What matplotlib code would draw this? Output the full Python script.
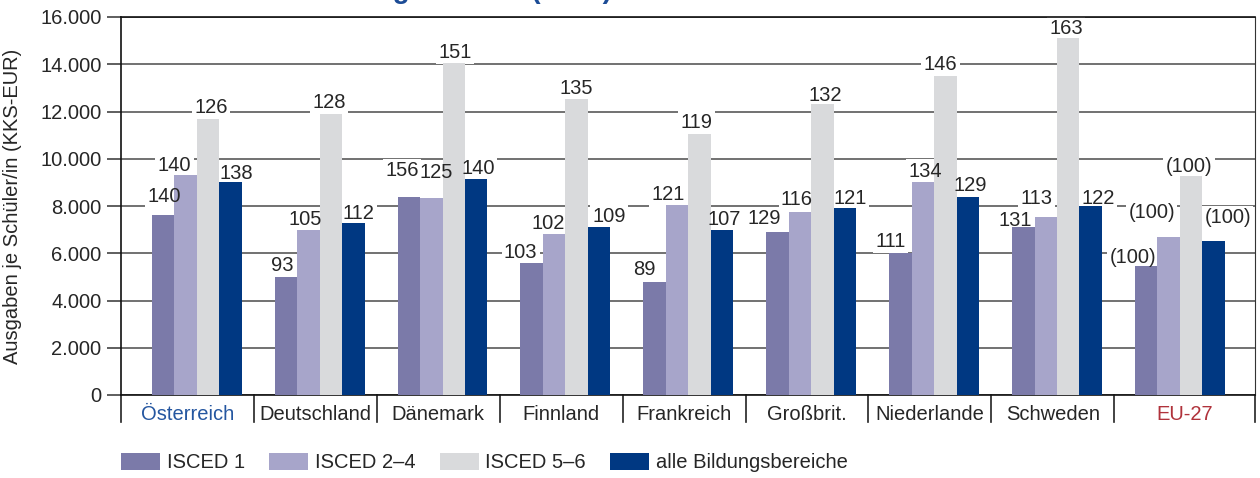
import matplotlib
matplotlib.use("Agg")
import matplotlib.pyplot as plt
from matplotlib.patches import Patch
from matplotlib.ticker import FuncFormatter, MultipleLocator
import matplotlib.transforms as mtransforms

plt.rcParams['font.family'] = ['Liberation Sans', 'DejaVu Sans']

countries = ["Österreich", "Deutschland", "Dänemark", "Finnland", "Frankreich",
             "Großbrit.", "Niederlande", "Schweden", "EU-27"]

# Ausgaben je Schüler/in in KKS-EUR
isced1 = [7600, 5000, 8400, 5600, 4800, 6900, 6000, 7100, 5450]
isced24 = [9300, 7000, 8350, 6800, 8050, 7750, 9000, 7550, 6700]
isced56 = [11700, 11900, 14050, 12550, 11050, 12300, 13500, 15100, 9250]
alle = [9000, 7300, 9150, 7100, 7000, 7900, 8400, 8000, 6500]

# Index EU-27 = 100
idx1 = ["140", "93", "156", "103", "89", "129", "111", "131", "(100)"]
idx24 = ["140", "105", "125", "102", "121", "116", "134", "113", "(100)"]
idx56 = ["126", "128", "151", "135", "119", "132", "146", "163", "(100)"]
idxall = ["138", "112", "140", "109", "107", "121", "129", "122", "(100)"]

series_names = ["ISCED 1", "ISCED 2\u20134", "ISCED 5\u20136", "alle Bildungsbereiche"]
colors = ["#7b7aa9", "#a7a5ca", "#d9dadc", "#003882"]

# label nudges in pixels (dx, dy above bar top) so labels don't collide
nudges = [
    [(1, 19), (-4, 11), (-7, 26), (-11, 10), (-10, 12), (-13, 13), (-10, 12), (-8, 7), (-13, 9)],
    [(-11, 10), (-3, 10), (5, 25), (-6, 11), (-9, 10), (-3, 12), (2, 11), (-9, 18), (-17, 24)],
    [(3, 11), (-2, 11), (1, 11), (0, 10), (-3, 11), (3, 9), (-5, 12), (-2, 10), (-2, 10)],
    [(6, 9), (5, 9), (2, 10), (10, 11), (2, 10), (5, 10), (2, 11), (7, 8), (14, 24)],
]

fs = 14.5

fig = plt.figure(figsize=(12.6, 4.78), dpi=100)
ax = fig.add_axes([121 / 1260, 83 / 478, 1134 / 1260, 378 / 478])

x = list(range(len(countries)))
w = 0.183
values = [isced1, isced24, isced56, alle]
labels = [idx1, idx24, idx56, idxall]

for k in range(4):
    xs = [xi + (k - 1.5) * w for xi in x]
    ax.bar(xs, values[k], width=w, color=colors[k], zorder=3, linewidth=0)
    for j in range(len(countries)):
        dx, dy = nudges[k][j]
        # white box behind the number breaks the gridline, bars stay on top of it
        ax.annotate(labels[k][j], (xs[j], values[k][j]), xytext=(dx, dy),
                    textcoords="offset pixels", ha="center", va="center",
                    fontsize=fs, color="none", zorder=2.5,
                    bbox=dict(boxstyle="square,pad=0.12", fc="white", ec="none"))
        ax.annotate(labels[k][j], (xs[j], values[k][j]), xytext=(dx, dy),
                    textcoords="offset pixels", ha="center", va="center",
                    fontsize=fs, color="#262626", zorder=4)

xmin, xmax = -0.616, 8.611
ax.set_ylim(0, 16000)
ax.set_xlim(xmin, xmax)
ax.yaxis.set_major_locator(MultipleLocator(2000))
ax.yaxis.set_major_formatter(FuncFormatter(lambda v, p: f"{int(v):,}".replace(",", ".")))
ax.grid(axis="y", color="#4a4a4a", linewidth=1.1, zorder=1)
ax.set_axisbelow(True)
ax.tick_params(axis="y", length=10, width=1.1, color="#333333", pad=4, labelsize=fs,
               labelcolor="#262626")

# category separators below the axis, names centred between them
seps = [xmin] + [i + 0.466 for i in range(8)] + [xmax]
mids = [(seps[i] + seps[i + 1]) / 2 for i in range(len(countries))]
ax.set_xticks(mids)
ax.set_xticklabels(countries, fontsize=fs, color="#262626")
ax.tick_params(axis="x", length=0, pad=7)
ax.get_xticklabels()[0].set_color("#2456a0")
ax.get_xticklabels()[-1].set_color("#b0323b")

for s in ["left", "top", "bottom"]:
    ax.spines[s].set_color("#111111")
    ax.spines[s].set_linewidth(1.2)
ax.spines["right"].set_color("#333333")

trans = mtransforms.blended_transform_factory(ax.transData, ax.transAxes)
for s in seps:
    ax.plot([s, s], [0, -0.0706], transform=trans, color="#222222", lw=1.2, clip_on=False)

ax.set_ylabel("Ausgaben je Schüler/in (KKS-EUR)", fontsize=fs, color="#262626")
ax.yaxis.set_label_coords(-0.087, 0.5)

# title, mostly cut off at the top edge as in the original
fig.text(612 / 1260, 1.0 + 1.5 / 478, "nach Bildungsbereich (2007)", ha="right",
         va="baseline", fontsize=20, fontweight="bold", color="#1c4c96")

handles = [Patch(facecolor=c, edgecolor="none") for c in colors]
fig.legend(handles, series_names, loc="center left", bbox_to_anchor=(121 / 1260, 15.5 / 478),
           ncol=4, frameon=False, fontsize=fs, handlelength=1.94, handleheight=0.94,
           handletextpad=0.33, columnspacing=1.2, borderpad=0, borderaxespad=0,
           labelcolor="#262626")

plt.savefig("out.png", dpi=100)
